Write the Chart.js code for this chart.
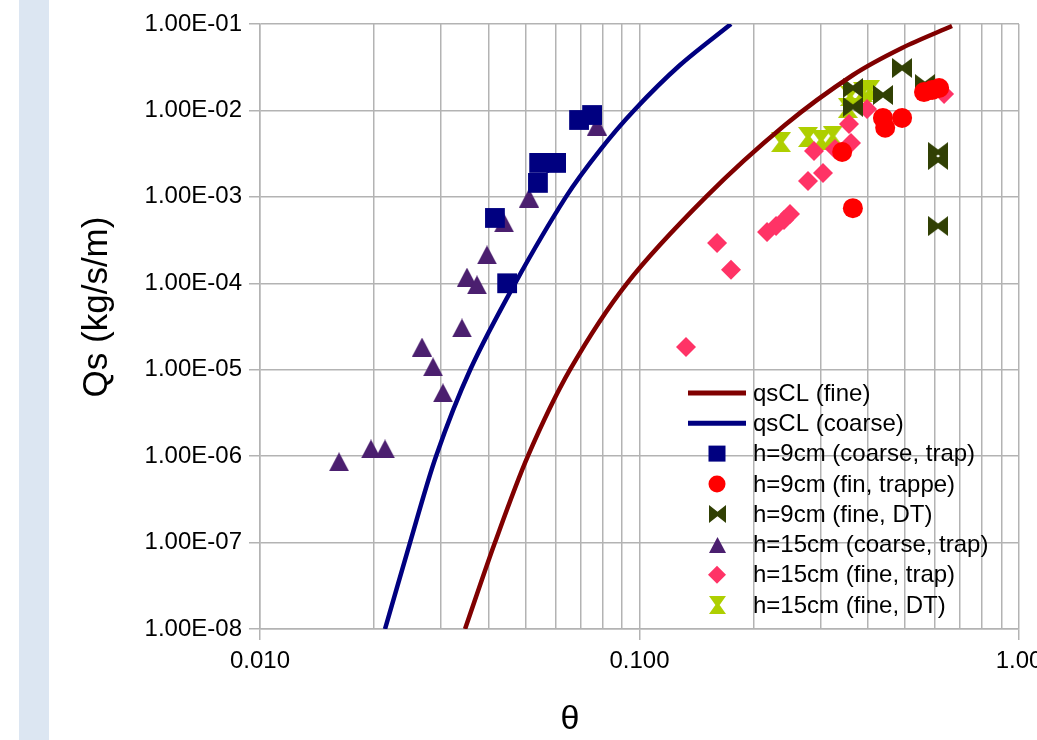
<!DOCTYPE html>
<html><head><meta charset="utf-8">
<script src="https://cdn.jsdelivr.net/npm/chart.js@4.4.1/dist/chart.umd.min.js"></script>
<style>
html,body{margin:0;padding:0;background:#fff;width:1037px;height:740px;overflow:hidden;}
#strip{position:absolute;left:19px;top:0;width:30px;height:740px;background:#dce6f2;}
#c{position:absolute;left:0;top:0;}
</style></head><body>
<div id="strip"></div>
<canvas id="c" width="1037" height="740"></canvas>
<script>
// ---- tick values and labels ----
const xTicks = [0.01,0.02,0.03,0.04,0.05,0.06,0.07,0.08,0.09,0.1,0.2,0.3,0.4,0.5,0.6,0.7,0.8,0.9,1];
const xTickLabels = ['0.010','','','','','','','','','0.100','','','','','','','','','1.00'];
const yTicks = [1e-8,1e-7,1e-6,1e-5,1e-4,1e-3,1e-2,1e-1];
const yTickLabels = ['1.00E-08','1.00E-07','1.00E-06','1.00E-05','1.00E-04','1.00E-03','1.00E-02','1.00E-01'];

// ---- series labels ----
const seriesLabels = ['qsCL (fine)','qsCL (coarse)','h=9cm (coarse, trap)','h=9cm (fin, trappe)','h=9cm (fine, DT)','h=15cm (coarse, trap)','h=15cm (fine, trap)','h=15cm (fine, DT)'];

// ---- curves ----
const fineCurveTheta = [0.0347,0.0416,0.0508,0.0656,0.0927,0.1497,0.2417,0.3652,0.4917,0.666];
const fineCurveQs    = [1e-8,1e-7,1e-6,1e-5,1e-4,1e-3,6.78e-3,2.57e-2,5.28e-2,0.0948];
const coarseCurveTheta = [0.02135,0.02485,0.0291,0.0358,0.0470,0.0640,0.0787,0.0967,0.1279,0.1742];
const coarseCurveQs    = [1e-8,1e-7,1e-6,1e-5,1e-4,1e-3,3.48e-3,1e-2,3.35e-2,1e-1];

// ---- measurements ----
const h9CoarseTrapTheta = [0.0448,0.0416,0.0540,0.0544,0.0603,0.0693,0.0750];
const h9CoarseTrapQs    = [1.0e-4,5.7e-4,1.45e-3,2.47e-3,2.47e-3,7.75e-3,8.85e-3];

const h9FinTrappeTheta = [0.342,0.365,0.438,0.444,0.492,0.562,0.590,0.616];
const h9FinTrappeQs    = [3.3e-3,7.4e-4,8.2e-3,6.3e-3,8.2e-3,1.63e-2,1.72e-2,1.82e-2];

const h9FineDTTheta = [0.365,0.365,0.438,0.492,0.565,0.612,0.612,0.612];
const h9FineDTQs    = [1.82e-2,1.10e-2,1.51e-2,3.10e-2,2.02e-2,3.30e-3,2.67e-3,4.6e-4];

const h15CoarseTrapTheta = [0.01615,0.01961,0.02135,0.02673,0.02857,0.03035,0.03406,0.03511,0.0373,0.03964,0.04395,0.05115,0.07727];
const h15CoarseTrapQs    = [8.6e-7,1.21e-6,1.21e-6,1.83e-5,1.08e-5,5.4e-6,3.04e-5,1.18e-4,9.6e-5,2.13e-4,5.0e-4,9.7e-4,6.6e-3];

const h15FineTrapTheta = [0.1326,0.1601,0.1742,0.2168,0.229,0.2403,0.2492,0.278,0.3045,0.2883,0.3274,0.3608,0.3565,0.3977,0.6346];
const h15FineTrapQs    = [1.83e-5,2.92e-4,1.43e-4,3.92e-4,4.6e-4,5.4e-4,6.33e-4,1.53e-3,1.89e-3,3.39e-3,3.58e-3,4.2e-3,6.97e-3,1.04e-2,1.55e-2];

const h15FineDTTheta = [0.236,0.278,0.301,0.323,0.354,0.359,0.388,0.405];
const h15FineDTQs    = [4.31e-3,4.93e-3,4.55e-3,5.06e-3,1.07e-2,1.47e-2,1.63e-2,1.72e-2];

// ---- marker shapes ----
function marker(type, color, w, h) {
  const c = document.createElement('canvas');
  c.width = w; c.height = h;
  const g = c.getContext('2d');
  g.fillStyle = color;
  g.beginPath();
  if (type === 'triangle') {
    g.moveTo(w/2, 0); g.lineTo(w, h); g.lineTo(0, h);
  } else if (type === 'bowtie') {
    g.moveTo(0,0); g.lineTo(w/2, h*0.375); g.lineTo(w,0); g.lineTo(w,h); g.lineTo(w/2, h*0.625); g.lineTo(0,h);
  } else if (type === 'hourglass') {
    g.moveTo(0,0); g.lineTo(w,0); g.lineTo(w*0.625, h/2); g.lineTo(w,h); g.lineTo(0,h); g.lineTo(w*0.375, h/2);
  }
  g.closePath();
  g.fill();
  return c;
}
const C_FINE = '#800000', C_COARSE = '#000080', C_SQ = '#000080', C_CIRC = '#ff0000',
      C_BOW = '#314004', C_TRI = '#4b1f6f', C_DIA = '#ff3366', C_HG = '#aecf00';
const triMarker = marker('triangle', C_TRI, 20, 19);
const bowMarker = marker('bowtie', C_BOW, 20, 20);
const hgMarker = marker('hourglass', C_HG, 20, 20);
const triMarkerL = marker('triangle', C_TRI, 17, 16);
const bowMarkerL = marker('bowtie', C_BOW, 17, 18);
const hgMarkerL = marker('hourglass', C_HG, 17, 18);

function pts(xs, ys) { return xs.map((x, i) => ({x: x, y: ys[i]})); }

const FONT = '"Liberation Sans", Arial, sans-serif';

function lineDs(label, xs, ys, color) {
  return {type: 'line', label, data: pts(xs, ys), borderColor: color, backgroundColor: color,
    borderWidth: 4.5, pointRadius: 0, showLine: true, tension: 0.3, fill: false,
    legendKind: 'line'};
}
function ptDs(label, xs, ys, color, style, radius, legendMarker) {
  return {type: 'scatter', label, data: pts(xs, ys), backgroundColor: color, borderColor: color,
    borderWidth: 0, pointStyle: style, pointRadius: radius, pointHoverRadius: radius,
    legendKind: 'point', legendMarker};
}

const datasets = [
  lineDs(seriesLabels[0], fineCurveTheta, fineCurveQs, C_FINE),
  lineDs(seriesLabels[1], coarseCurveTheta, coarseCurveQs, C_COARSE),
  ptDs(seriesLabels[2], h9CoarseTrapTheta, h9CoarseTrapQs, C_SQ, 'rect', 14, 'rect'),
  ptDs(seriesLabels[3], h9FinTrappeTheta, h9FinTrappeQs, C_CIRC, 'circle', 10, 'circle'),
  ptDs(seriesLabels[4], h9FineDTTheta, h9FineDTQs, C_BOW, bowMarker, 10, bowMarkerL),
  ptDs(seriesLabels[5], h15CoarseTrapTheta, h15CoarseTrapQs, C_TRI, triMarker, 10, triMarkerL),
  ptDs(seriesLabels[6], h15FineTrapTheta, h15FineTrapQs, C_DIA, 'rectRot', 10, 'rectRot'),
  ptDs(seriesLabels[7], h15FineDTTheta, h15FineDTQs, C_HG, hgMarker, 10, hgMarkerL)
];

const customLegend = {
  id: 'customLegend',
  afterDraw(chart) {
    const ctx = chart.ctx;
    ctx.save();
    chart.data.datasets.forEach((ds, i) => {
      const y = 393 + i * 30.3;
      const cx = 717;
      if (ds.legendKind === 'line') {
        ctx.strokeStyle = ds.borderColor;
        ctx.lineWidth = 5;
        ctx.beginPath(); ctx.moveTo(688, y); ctx.lineTo(746, y); ctx.stroke();
      } else {
        const m = ds.legendMarker;
        ctx.fillStyle = ds.backgroundColor;
        if (m === 'rect') { ctx.fillRect(cx - 8.5, y - 8, 17, 16); }
        else if (m === 'circle') { ctx.beginPath(); ctx.arc(cx, y, 8.5, 0, Math.PI*2); ctx.fill(); }
        else if (m === 'rectRot') { ctx.beginPath(); ctx.moveTo(cx-9,y); ctx.lineTo(cx,y-9); ctx.lineTo(cx+9,y); ctx.lineTo(cx,y+9); ctx.closePath(); ctx.fill(); }
        else { ctx.drawImage(m, Math.round(cx - m.width/2), Math.round(y - m.height/2)); }
      }
      ctx.fillStyle = '#000';
      ctx.font = '24px ' + FONT;
      ctx.textAlign = 'left';
      ctx.textBaseline = 'middle';
      ctx.fillText(ds.label, 753, y + 1);
    });
    // axis titles
    ctx.fillStyle = '#000';
    ctx.font = '34px ' + FONT;
    ctx.textAlign = 'center';
    ctx.textBaseline = 'middle';
    ctx.fillText('θ', 570, 720);
    ctx.save();
    ctx.translate(97, 307);
    ctx.rotate(-Math.PI / 2);
    ctx.font = '35px ' + FONT;
    ctx.fillText('Qs (kg/s/m)', 0, 0);
    ctx.restore();
    ctx.restore();
  }
};

const GRID = '#b3b3b3';
new Chart(document.getElementById('c'), {
  type: 'scatter',
  data: {datasets},
  options: {
    responsive: false,
    animation: false,
    devicePixelRatio: 1,
    layout: {padding: {top: 24, right: 18, left: 0, bottom: 0}},
    plugins: {legend: {display: false}, tooltip: {enabled: false}},
    scales: {
      x: {
        type: 'logarithmic', position: 'bottom', min: 0.01, max: 1,
        afterBuildTicks: s => { s.ticks = xTicks.map(v => ({value: v})); },
        afterFit: s => { s.height = 111; s.paddingLeft = 0; s.paddingRight = 0; },
        ticks: {autoSkip: false, maxRotation: 0, minRotation: 0, padding: 7, color: '#000',
          font: {family: FONT, size: 24},
          callback: (v, i) => xTickLabels[i]},
        grid: {color: GRID, lineWidth: 1.5, tickLength: 11,
          tickColor: c => (xTickLabels[c.index] ? GRID : 'rgba(0,0,0,0)')},
        border: {color: GRID, width: 1.5}
      },
      y: {
        type: 'logarithmic', position: 'left', min: 1e-8, max: 1e-1,
        afterBuildTicks: s => { s.ticks = yTicks.map(v => ({value: v})); },
        afterFit: s => { s.width = 260; s.paddingTop = 0; s.paddingBottom = 0; },
        ticks: {autoSkip: false, padding: 7, color: '#000',
          font: {family: FONT, size: 24},
          callback: (v, i) => yTickLabels[i]},
        grid: {color: GRID, lineWidth: 1.5, tickLength: 11, tickColor: GRID},
        border: {color: GRID, width: 1.5}
      }
    }
  },
  plugins: [customLegend]
});
</script>
</body></html>
